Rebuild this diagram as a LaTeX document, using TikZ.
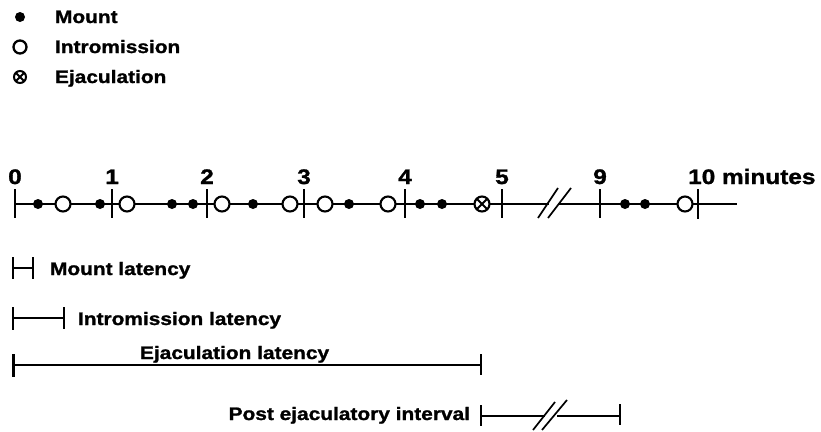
\documentclass[tikz,border=0pt]{standalone}
\usepackage{fontspec}
\setmainfont{Liberation Sans}[FakeStretch=1.16,FakeBold=1.4]
\begin{document}
\begin{tikzpicture}[x=1pt,y=-1pt,
  lbl/.style={font=\fontsize{18}{20}\selectfont\bfseries, inner sep=0, outer sep=0, anchor=base west},
  num/.style={font=\fontsize{21}{23}\selectfont\bfseries, inner sep=0, anchor=base},
  mnt/.style={circle, fill=black, minimum size=10pt, inner sep=0, outer sep=0},
  itr/.style={circle, draw=black, fill=white, line width=2.1pt, minimum size=15pt, inner sep=0, outer sep=0},
  axis/.style={line width=1.7pt},
  tk/.style={line width=2.6pt},
  bar/.style={line width=2pt},
]
\useasboundingbox (0,0) rectangle (821,431);

% legend
\node[mnt] (lm) at (20,17) {};
\node[lbl] (lmt) at (55,23) {Mount};
\node[itr, minimum size=13pt, line width=2.3pt] (li) at (20,47) {};
\node[lbl] (lit) at (55,53) {Intromission};
\node[itr, minimum size=12pt, line width=2pt] (le) at (20,77) {};
\draw[line width=1.8pt] (le.north west) -- (le.south east) (le.north east) -- (le.south west);
\node[lbl] (let) at (55,83) {Ejaculation};

% time axis with broken segment between 5 and 9 minutes
\coordinate (a0) at (15,204);
\coordinate (brkA) at (549,204);
\coordinate (brkB) at (559,204);
\coordinate (aend) at (737,204);
\draw[axis] (a0) -- (brkA) (brkB) -- (aend);
\draw[axis] (538,218) -- (558,188) (548,218) -- (571,188);

\foreach \x/\t in {15/0,112/1,207/2,304/3,405/4,502/5,600/9}{
  \draw[tk] (\x,189) -- (\x,218);
  \node[num] (n\t) at (\x,184) {\t};
}
\draw[tk] (698,189) -- (698,219);
\node[num, anchor=base west] (n10) at (688,184) {10 minutes};

% events
\foreach \x [count=\i] in {38,100,172,193,253,349,420,442,625,645}
  \node[mnt] (m\i) at (\x,204) {};
\foreach \x [count=\i] in {63,127,222,290,325,388,685}
  \node[itr] (i\i) at (\x,204) {};
\node[itr] (ej) at (482,204) {};
\draw[line width=1.8pt] (ej.north west) -- (ej.south east) (ej.north east) -- (ej.south west);

% latency bars
\coordinate (ml0) at (13,268);
\coordinate (ml1) at (33,268);
\draw[bar] (ml0) -- (ml1);
\draw[tk] (13,257) -- (13,279) (33,257) -- (33,279);
\node[lbl] (mlt) at (50,275) {Mount latency};

\coordinate (il0) at (13,318);
\coordinate (il1) at (64,318);
\draw[bar] (il0) -- (il1);
\draw[tk] (13,307) -- (13,330) (64,307) -- (64,329);
\node[lbl] (ilt) at (78,325) {Intromission latency};

\coordinate (el0) at (13,365);
\coordinate (el1) at (481,365);
\draw[bar] (el0) -- (el1);
\draw[line width=3pt] (13,354) -- (13,377);
\draw[tk] (481,354) -- (481,375);
\node[lbl] (elt) at (140,359) {Ejaculation latency};

\coordinate (pe0) at (481,416);
\coordinate (peA) at (545,416);
\coordinate (peB) at (557,416);
\coordinate (pe1) at (620,416);
\draw[bar] (pe0) -- (peA) (peB) -- (pe1);
\draw[axis] (533,430) -- (555,402) (542,430) -- (567,400);
\draw[tk] (481,405) -- (481,426) (620,404) -- (620,425);
\node[lbl, anchor=base east] (pet) at (470,420) {Post ejaculatory interval};
\end{tikzpicture}
\end{document}
